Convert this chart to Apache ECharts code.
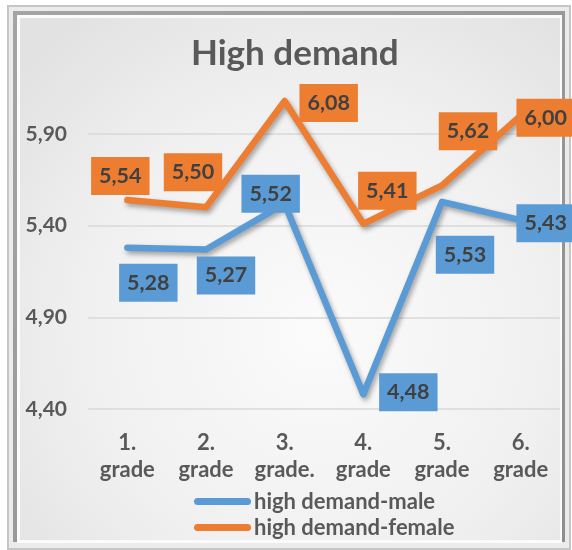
<!DOCTYPE html>
<html>
<head>
<meta charset="utf-8">
<title>High demand</title>
<script src="https://cdn.jsdelivr.net/npm/echarts@6/dist/echarts.min.js"></script>
<style>
  html, body { margin: 0; padding: 0; background: #ffffff; }
  #chart { width: 572px; height: 550px; }
</style>
</head>
<body>
<div id="chart"></div>
<script>
// Grade categories (two-line labels)
const categories = ['1.\ngrade', '2.\ngrade', '3.\ngrade.', '4.\ngrade', '5.\ngrade', '6.\ngrade'];

// Mean scores per grade
const maleValues = [5.28, 5.27, 5.52, 4.48, 5.53, 5.43];
const femaleValues = [5.54, 5.50, 6.08, 5.41, 5.62, 6.00];

// Value axis ticks
const yTicks = [4.40, 4.90, 5.40, 5.90];

const seriesNames = ['high demand-male', 'high demand-female'];
const BLUE = '#5B9BD5';
const ORANGE = '#ED7D31';
const TEXT = '#595959';
const FONT = 'Lato, "Open Sans", sans-serif';

// Placement of each value box relative to its point
const maleLabelOffsets = [[21, 35], [20, 26], [-14, -10], [45, -2], [23, 53], [25, 3]];
const femaleLabelOffsets = [[-7, -24], [-13, -35], [44, 2], [24, -33], [26, -54], [25, 2]];

const fmt = v => v.toFixed(2).replace('.', ',');

function buildData(values, offsets) {
  return values.map((v, i) => ({
    value: v,
    label: { offset: offsets[i] }
  }));
}

function lineSeries(name, values, offsets, color) {
  return {
    name: name,
    type: 'line',
    data: buildData(values, offsets),
    symbol: 'circle',
    symbolSize: 2,
    showSymbol: true,
    itemStyle: { color: color },
    lineStyle: {
      color: color,
      width: 6.5,
      cap: 'round',
      join: 'round',
      shadowColor: 'rgba(0,0,0,0.35)',
      shadowBlur: 5,
      shadowOffsetX: 2,
      shadowOffsetY: 3
    },
    label: {
      show: true,
      position: 'inside',
      formatter: p => fmt(p.value),
      backgroundColor: color,
      color: '#404040',
      fontFamily: FONT,
      fontWeight: 'bold',
      fontSize: 21.5,
      lineHeight: 22,
      padding: [8, 8, 8, 8]
    },
    emphasis: { disabled: true },
    animation: false,
    z: 3
  };
}

const chart = echarts.init(document.getElementById('chart'), null, { renderer: 'canvas' });

chart.setOption({
  animation: false,
  backgroundColor: '#ffffff',
  graphic: [
    { type: 'rect', z: -10, silent: true, shape: { x: 7, y: 5, width: 564, height: 545 }, style: { fill: '#c6c6c6' } },
    { type: 'rect', z: -10, silent: true, shape: { x: 9, y: 7, width: 560, height: 541 }, style: { fill: '#ebebeb' } },
    { type: 'rect', z: -10, silent: true, shape: { x: 13, y: 11, width: 552, height: 531 },
      style: { fill: new echarts.graphic.LinearGradient(0, 0, 1, 1, [
        { offset: 0, color: '#a4a4a4' }, { offset: 1, color: '#8e8e8e' }]) } },
    { type: 'rect', z: -10, silent: true, shape: { x: 17, y: 15, width: 545, height: 528 }, style: { fill: '#fbfbfb' } },
    { type: 'rect', z: -10, silent: true, shape: { x: 20, y: 18, width: 540, height: 522 },
      style: { fill: new echarts.graphic.RadialGradient(0.55, 0.6, 0.75, [
        { offset: 0, color: '#fbfbfb' }, { offset: 0.6, color: '#f0f0f0' }, { offset: 1, color: '#e2e2e2' }]) } }
  ],
  title: {
    text: 'High demand',
    left: 186,
    top: 31,
    textStyle: { fontFamily: FONT, fontWeight: 'bold', fontSize: 35, color: TEXT }
  },
  legend: {
    orient: 'vertical',
    left: 194,
    top: 490,
    height: 60,
    padding: 0,
    itemWidth: 57,
    itemHeight: 7,
    itemGap: 3,
    icon: 'path://M3.5,0 L53.5,0 A3.5,3.5 0 0 1 53.5,7 L3.5,7 A3.5,3.5 0 0 1 3.5,0 Z',
    data: seriesNames,
    textStyle: { fontFamily: FONT, fontWeight: 'bold', fontSize: 22, lineHeight: 23, color: TEXT, padding: [0, 0, 0, -2] }
  },
  grid: { left: 88, right: 12, top: 79, bottom: 141, containLabel: false },
  xAxis: {
    type: 'category',
    data: categories,
    boundaryGap: true,
    axisLine: { show: false },
    axisTick: { show: false },
    axisLabel: {
      margin: 20,
      fontFamily: FONT,
      fontWeight: 'bold',
      fontSize: 22,
      lineHeight: 27,
      color: TEXT,
      interval: 0
    }
  },
  yAxis: {
    type: 'value',
    min: yTicks[0],
    max: 6.2,
    interval: 0.5,
    axisLine: { show: false },
    axisTick: { show: false },
    splitLine: { show: true, showMaxLine: false, lineStyle: { color: '#d9d9d9', width: 1.5 } },
    axisLabel: {
      showMaxLabel: false,
      margin: 21,
      fontFamily: FONT,
      fontWeight: 'bold',
      fontSize: 21,
      color: TEXT,
      formatter: v => yTicks.some(t => Math.abs(t - v) < 1e-6) ? fmt(v) : ''
    }
  },
  series: [
    lineSeries(seriesNames[0], maleValues, maleLabelOffsets, BLUE),
    lineSeries(seriesNames[1], femaleValues, femaleLabelOffsets, ORANGE)
  ]
});
</script>
</body>
</html>
